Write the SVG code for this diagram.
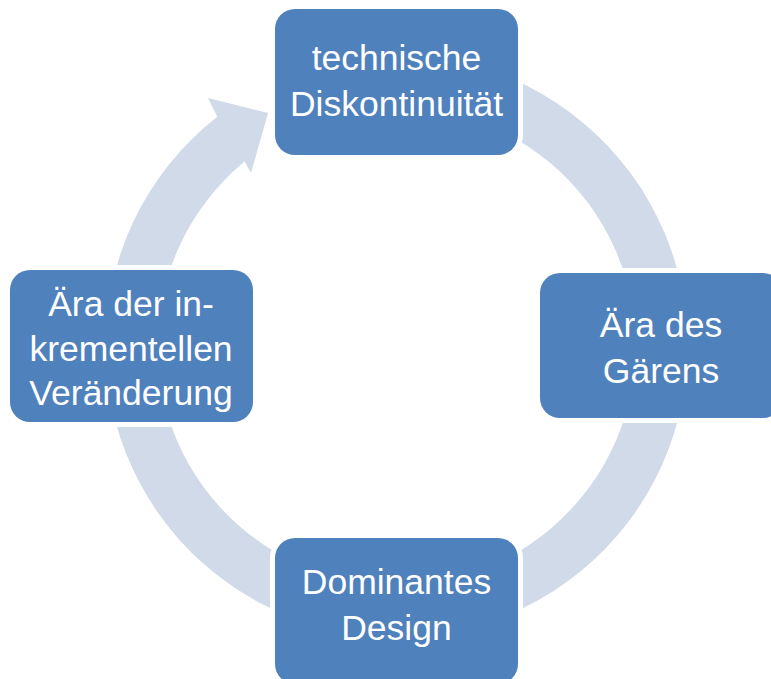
<svg xmlns="http://www.w3.org/2000/svg" width="771" height="679" viewBox="0 0 771 679">
  <style>
    .ring { fill: #D0DAE8; }
    .halo { fill: #FFFFFF; stroke: #FFFFFF; stroke-width: 10; }
    .box { fill: #4F81BD; }
    .label { fill: #FFFFFF; font-family: "Liberation Sans", Arial, sans-serif; font-size: 35.5px; text-anchor: middle; }
  </style>
  <rect width="771" height="679" fill="#FFFFFF"/>

  <!-- cycle ring with a single arrowhead, drawn behind the boxes -->
  <g id="connectors">
    <path class="ring" d="M 396.5 55 A 291 291 0 1 1 217.3 116.7 L 208 98 L 268 113 L 251 173 L 244.5 161.6 A 239 239 0 1 0 396.5 107 Z"/>
  </g>

  <g id="node-top">
    <rect class="halo" x="275" y="9" width="243" height="146" rx="20"/>
    <rect class="box" x="275" y="9" width="243" height="146" rx="20"/>
    <text class="label" x="396.5" y="70">technische</text>
    <text class="label" x="396.5" y="115.5">Diskontinuität</text>
  </g>

  <g id="node-right">
    <rect class="halo" x="540" y="273" width="243" height="145" rx="20"/>
    <rect class="box" x="540" y="273" width="243" height="145" rx="20"/>
    <text class="label" x="661" y="337">Ära des</text>
    <text class="label" x="661" y="383">Gärens</text>
  </g>

  <g id="node-bottom">
    <rect class="halo" x="275" y="538" width="243" height="146" rx="20"/>
    <rect class="box" x="275" y="538" width="243" height="146" rx="20"/>
    <text class="label" x="396.5" y="594">Dominantes</text>
    <text class="label" x="396.5" y="640">Design</text>
  </g>

  <g id="node-left">
    <rect class="halo" x="10" y="270" width="243" height="152" rx="20"/>
    <rect class="box" x="10" y="270" width="243" height="152" rx="20"/>
    <text class="label" x="131" y="316">Ära der in-</text>
    <text class="label" x="131" y="360.5">krementellen</text>
    <text class="label" x="131" y="405">Veränderung</text>
  </g>
</svg>
